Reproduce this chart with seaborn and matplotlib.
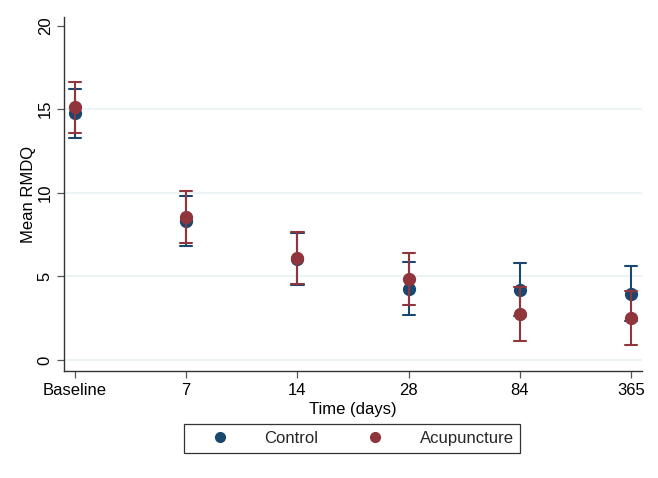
import pandas as pd
import matplotlib.pyplot as plt
import seaborn as sb
from matplotlib.lines import Line2D

# values: mean and 95% CI per group
times = ["Baseline", "7", "14", "28", "84", "365"]
control_mean = [14.75, 8.3, 6.05, 4.25, 4.2, 3.95]
control_low = [13.3, 6.8, 4.5, 2.7, 2.6, 2.3]
control_high = [16.2, 9.8, 7.6, 5.85, 5.8, 5.6]
acup_mean = [15.1, 8.55, 6.1, 4.85, 2.75, 2.5]
acup_low = [13.55, 7.0, 4.55, 3.3, 1.15, 0.9]
acup_high = [16.65, 10.1, 7.65, 6.4, 4.35, 4.1]
groups = ["Control", "Acupuncture"]
colors = {"Control": "#1a476f", "Acupuncture": "#90353b"}

# long form: low / mean / high rows -> median = mean, 100% interval = CI
rows = []
for g, m, lo, hi in [("Control", control_mean, control_low, control_high),
                     ("Acupuncture", acup_mean, acup_low, acup_high)]:
    for t, a, b, c in zip(times, lo, m, hi):
        for v in (a, b, c):
            rows.append({"time": t, "group": g, "value": v})
df = pd.DataFrame(rows)

sb.set_style("white")
plt.rcParams['font.family'] = ['Liberation Sans', 'DejaVu Sans']

fig = plt.figure(figsize=(6.58, 4.78), dpi=100)
ax = fig.add_axes([0.097, 0.224, 0.879, 0.740])

sb.pointplot(data=df, x="time", y="value", hue="group", order=times,
             hue_order=groups, palette=colors, estimator="median",
             errorbar=("pi", 100), dodge=False, linestyle="none",
             markers="o", markersize=7.5, capsize=0.11,
             err_kws={"linewidth": 1.5}, legend=False, ax=ax)

ax.set_xlim(-0.1, 5.1)
ax.set_ylim(-0.66, 20.5)
ax.set_yticks([0, 5, 10, 15, 20])
ax.set_yticklabels(["0", "5", "10", "15", "20"], rotation=90, va="center")
for gy in [0, 5, 10, 15]:
    ax.axhline(gy, color="#eaf2f3", lw=1.3, zorder=0)

ax.set_xlabel("Time (days)", fontsize=12, color="black", labelpad=3)
ax.set_ylabel("Mean RMDQ", fontsize=12, color="black", labelpad=1)
ax.tick_params(axis="both", labelsize=12, colors="black", length=5,
               width=0.9, direction="out", bottom=True, left=True)
ax.tick_params(axis="both", color="#555555")
ax.tick_params(axis="y", pad=3)
for s in ["top", "right"]:
    ax.spines[s].set_visible(False)
for s in ["left", "bottom"]:
    ax.spines[s].set_color("#333333")
    ax.spines[s].set_linewidth(1.0)

handles = [Line2D([], [], marker="o", linestyle="none", markersize=7,
                  color=colors[g]) for g in groups]
leg = fig.legend(handles, groups, loc="upper center",
                 bbox_to_anchor=(0.535, 0.112), ncol=2, fontsize=12,
                 frameon=True, fancybox=False, edgecolor="black",
                 handlelength=3.5, handletextpad=0.9, columnspacing=1.7,
                 borderpad=0.4, borderaxespad=0)
leg.get_frame().set_linewidth(0.9)

plt.savefig("out.png", dpi=100)
